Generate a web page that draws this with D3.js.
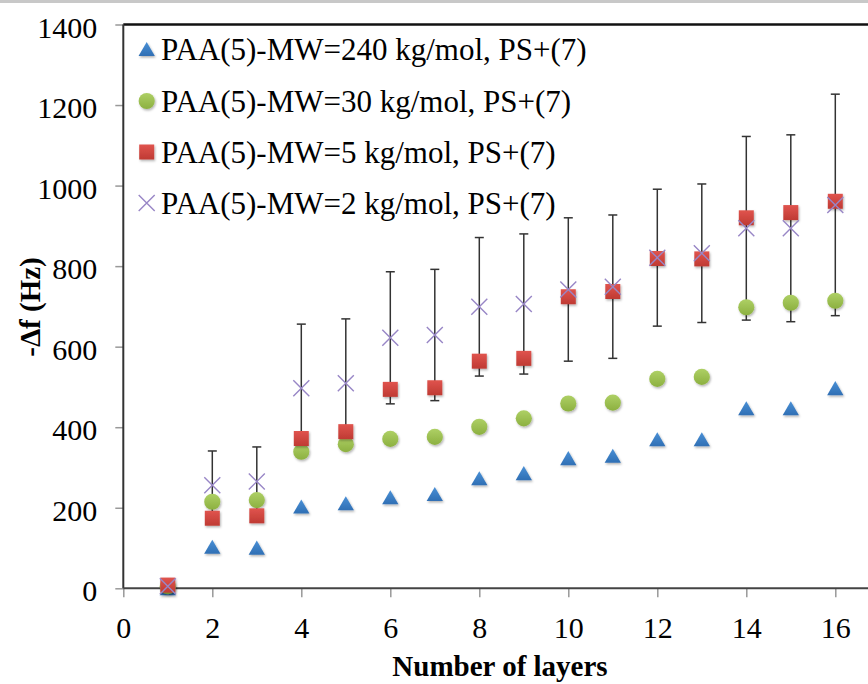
<!DOCTYPE html>
<html lang="en">
<head>
<meta charset="UTF-8" />
<title>-Δf vs number of layers</title>
<style>
  body { margin: 0; background: #fff; }
  svg { display: block; font-family: "Liberation Serif", "Times New Roman", serif; }
  .tick line { stroke: #999; stroke-width: 1.5; }
  .tick text { fill: #000; font-size: 30px; font-family: "Liberation Serif", "Times New Roman", serif; }
</style>
</head>
<body>
<svg width="868" height="684"></svg>
<script src="https://d3js.org/d3.v7.min.js"></script>
<script>
// data
var layers = [1, 2, 3, 4, 5, 6, 7, 8, 9, 10, 11, 12, 13, 14, 15, 16];
var mw240 = [0, 103, 101, 203, 211, 226, 234, 273, 286, 323, 329, 370, 370, 447, 447, 497];
var mw30 = [5, 215, 219, 339, 358, 371, 376, 401, 422, 459, 461, 520, 525, 698, 709, 714];
var mw5 = [8, 174, 180, 372, 389, 494, 498, 564, 571, 724, 737, 819, 818, 920, 933, 961];
var mw2 = [5, 256, 265, 497, 509, 622, 629, 699, 706, 742, 749, 821, 832, 894, 894, 952];
var mw2Err = [0, 85, 86, 159, 160, 164, 163, 172, 174, 178, 178, 170, 172, 228, 232, 275];
var seriesNames = [
    "PAA(5)-MW=240 kg/mol, PS+(7)",
    "PAA(5)-MW=30 kg/mol, PS+(7)",
    "PAA(5)-MW=5 kg/mol, PS+(7)",
    "PAA(5)-MW=2 kg/mol, PS+(7)"
];
var xTicks = [0, 2, 4, 6, 8, 10, 12, 14, 16];
var yTicks = [0, 200, 400, 600, 800, 1000, 1200, 1400];

var svg = d3.select("svg"),
    plotLeft = 123.3, plotTop = 24.5, plotBottom = 588.3;

var x = d3.scaleLinear().domain([0, 18]).range([plotLeft, plotLeft + 18 * 44.5]);
var y = d3.scaleLinear().domain([0, 1400]).range([plotBottom, plotTop]);

svg.append("rect").attr("width", 868).attr("height", 3).attr("fill", "#c8c8c8");

// gradients + shadow for the markers
var defs = svg.append("defs");
function grad(id, c1, c2) {
    var g = defs.append("linearGradient").attr("id", id)
        .attr("x1", 0).attr("y1", 0).attr("x2", 0).attr("y2", 1);
    g.append("stop").attr("offset", "0%").attr("stop-color", c1);
    g.append("stop").attr("offset", "100%").attr("stop-color", c2);
}
grad("gBlue", "#4a90d6", "#2f6fb4");
grad("gGreen", "#aed065", "#8cb040");
grad("gRed", "#e0544e", "#bf3a33");
var sh = defs.append("filter").attr("id", "shadow")
    .attr("x", "-50%").attr("y", "-50%").attr("width", "200%").attr("height", "200%");
sh.append("feDropShadow").attr("dx", 1).attr("dy", 1.5)
    .attr("stdDeviation", 1).attr("flood-color", "#000").attr("flood-opacity", 0.3);

// axes
var yAxis = svg.append("g")
    .attr("transform", "translate(" + plotLeft + ",0)")
    .call(d3.axisLeft(y).tickValues(yTicks).tickFormat(d3.format("d")).tickSize(8).tickPadding(18));
yAxis.select(".domain").remove();
yAxis.selectAll("text").attr("dy", "0.42em");

var xAxis = svg.append("g")
    .attr("transform", "translate(0," + plotBottom + ")")
    .call(d3.axisBottom(x).tickValues(xTicks).tickFormat(d3.format("d")).tickSize(9).tickPadding(19));
xAxis.select(".domain").remove();

svg.append("line").attr("x1", plotLeft).attr("x2", 868).attr("y1", plotTop).attr("y2", plotTop)
    .attr("stroke", "#111").attr("stroke-width", 2.5);
svg.append("line").attr("x1", plotLeft).attr("x2", plotLeft).attr("y1", plotTop).attr("y2", plotBottom)
    .attr("stroke", "#333").attr("stroke-width", 2);
svg.append("line").attr("x1", plotLeft).attr("x2", 868).attr("y1", plotBottom).attr("y2", plotBottom)
    .attr("stroke", "#444").attr("stroke-width", 2);

// axis titles
svg.append("text")
    .attr("x", 500).attr("y", 676)
    .attr("text-anchor", "middle")
    .attr("font-size", "29px").attr("font-weight", "bold")
    .text("Number of layers");

svg.append("text")
    .attr("transform", "translate(40,307) rotate(-90)")
    .attr("text-anchor", "middle")
    .attr("font-size", "29px").attr("font-weight", "bold")
    .text("-\u0394f (Hz)");

// error bars on the 2 kg/mol series
var eb = svg.append("g").attr("stroke", "#333").attr("stroke-width", 1.5);
layers.forEach(function(l, i) {
    if (!mw2Err[i]) return;
    var cx = x(l), y1 = y(mw2[i] + mw2Err[i]), y2 = y(mw2[i] - mw2Err[i]);
    eb.append("line").attr("x1", cx).attr("x2", cx).attr("y1", y1).attr("y2", y2);
    eb.append("line").attr("x1", cx - 4.5).attr("x2", cx + 4.5).attr("y1", y1).attr("y2", y1);
    eb.append("line").attr("x1", cx - 4.5).attr("x2", cx + 4.5).attr("y1", y2).attr("y2", y2);
});

// marker drawing helpers
var tri = d3.symbol().type(d3.symbolTriangle).size(115)();
var circ = d3.symbol().type(d3.symbolCircle).size(205)();
var sq = d3.symbol().type(d3.symbolSquare).size(225)();

function marker(g, kind, cx, cy) {
    if (kind === 0) {
        g.append("path").attr("d", tri).attr("fill", "url(#gBlue)")
            .attr("filter", "url(#shadow)")
            .attr("transform", "translate(" + cx + "," + (cy + 2.3) + ")");
    } else if (kind === 1) {
        g.append("path").attr("d", circ).attr("fill", "url(#gGreen)")
            .attr("filter", "url(#shadow)")
            .attr("transform", "translate(" + cx + "," + cy + ")");
    } else if (kind === 2) {
        g.append("path").attr("d", sq).attr("fill", "url(#gRed)")
            .attr("filter", "url(#shadow)")
            .attr("transform", "translate(" + cx + "," + cy + ")");
    } else {
        var r = 8;
        g.append("path")
            .attr("d", "M" + (cx - r) + "," + (cy - r) + "L" + (cx + r) + "," + (cy + r) +
                       "M" + (cx + r) + "," + (cy - r) + "L" + (cx - r) + "," + (cy + r))
            .attr("stroke", "#9886c6").attr("stroke-width", 1.4).attr("fill", "none");
    }
}

var allSeries = [mw240, mw30, mw5, mw2];
var pts = svg.append("g");
allSeries.forEach(function(vals, k) {
    layers.forEach(function(l, i) { marker(pts, k, x(l), y(vals[i])); });
});

// legend
var legendY = [60, 112, 163, 214];
var lg = svg.append("g");
seriesNames.forEach(function(name, k) {
    marker(lg, k, 146.7, legendY[k] - 11);
    lg.append("text")
        .attr("x", 161).attr("y", legendY[k])
        .attr("font-size", "31px")
        .text(name);
});
</script>
</body>
</html>
